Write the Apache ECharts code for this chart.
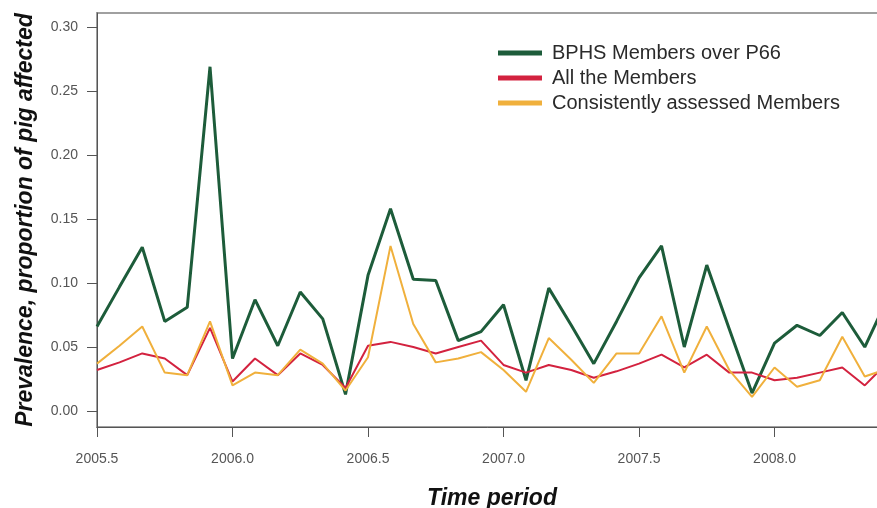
<!DOCTYPE html>
<html>
<head>
<meta charset="utf-8">
<script src="https://cdn.jsdelivr.net/npm/echarts@6/dist/echarts.min.js"></script>
<style>
html,body{margin:0;padding:0;background:#fff;}
#chart{width:877px;height:508px;}
</style>
</head>
<body>
<div id="chart"></div>
<script>
// Monthly time points (decimal years)
var times = [2005.500, 2005.583, 2005.667, 2005.750, 2005.833, 2005.917,
             2006.000, 2006.083, 2006.167, 2006.250, 2006.333, 2006.417,
             2006.500, 2006.583, 2006.667, 2006.750, 2006.833, 2006.917,
             2007.000, 2007.083, 2007.167, 2007.250, 2007.333, 2007.417,
             2007.500, 2007.583, 2007.667, 2007.750, 2007.833, 2007.917,
             2008.000, 2008.083, 2008.167, 2008.250, 2008.333, 2008.417];
var bphsOverP66 = [0.066, 0.097, 0.128, 0.070, 0.081, 0.269,
                   0.041, 0.087, 0.051, 0.093, 0.072, 0.013,
                   0.106, 0.158, 0.103, 0.102, 0.055, 0.062,
                   0.083, 0.024, 0.096, 0.067, 0.037, 0.070,
                   0.104, 0.129, 0.050, 0.114, 0.064, 0.014,
                   0.053, 0.067, 0.059, 0.077, 0.050, 0.088];
var allMembers = [0.032, 0.038, 0.045, 0.041, 0.028, 0.065,
                  0.023, 0.041, 0.028, 0.045, 0.036, 0.018,
                  0.051, 0.054, 0.050, 0.045, 0.050, 0.055,
                  0.036, 0.030, 0.036, 0.032, 0.026, 0.031,
                  0.037, 0.044, 0.034, 0.044, 0.030, 0.030,
                  0.024, 0.026, 0.030, 0.034, 0.020, 0.038];
var consistentMembers = [0.037, 0.051, 0.066, 0.030, 0.028, 0.070,
                         0.020, 0.030, 0.028, 0.048, 0.037, 0.016,
                         0.042, 0.129, 0.068, 0.038, 0.041, 0.046,
                         0.032, 0.015, 0.057, 0.040, 0.022, 0.045,
                         0.045, 0.074, 0.030, 0.066, 0.032, 0.011,
                         0.034, 0.019, 0.024, 0.058, 0.027, 0.033];
var xTicks = [2005.5, 2006.0, 2006.5, 2007.0, 2007.5, 2008.0];
var yTicks = [0.00, 0.05, 0.10, 0.15, 0.20, 0.25, 0.30];
var seriesNames = ['BPHS Members over P66', 'All the Members', 'Consistently assessed Members'];

function pairs(vals){ return times.map(function(t,i){ return [t, vals[i]]; }); }

var FONT = '"Liberation Sans", Arial, sans-serif';
var chart = echarts.init(document.getElementById('chart'), null, {renderer:'canvas'});
chart.setOption({
  animation: false,
  backgroundColor: '#fff',
  textStyle: {fontFamily: FONT},
  grid: {left: 97, top: 13, width: 790, height: 414, show: true, outerBoundsMode: 'none',
         containLabel: false,
         borderColor: '#a0a0a0', borderWidth: 2, backgroundColor: 'transparent'},
  legend: {
    orient: 'vertical', left: 493, top: 38,
    icon: 'rect', itemWidth: 44, itemHeight: 5, itemGap: 5,
    textStyle: {fontSize: 20, color: '#2a2a2a', fontFamily: FONT, lineHeight: 20, padding: [0,0,0,5]},
    data: seriesNames
  },
  xAxis: {
    type: 'value', min: 2005.5, max: 2008.415,
    name: 'Time period', nameLocation: 'middle', nameGap: 60,
    nameTextStyle: {fontSize: 23, fontWeight: 'bold', fontStyle: 'italic', color: '#111', fontFamily: FONT},
    axisLine: {show: true, onZero: false, lineStyle: {color: '#555', width: 1}},
    axisTick: {show: true, length: 10, customValues: xTicks, lineStyle: {color: '#555'}},
    axisLabel: {customValues: xTicks, margin: 25, fontSize: 14, color: '#555',
                formatter: function(v){ return v.toFixed(1); }},
    splitLine: {show: false}
  },
  yAxis: {
    type: 'value', min: -0.0125, max: 0.311,
    name: 'Prevalence, proportion of pig affected', nameLocation: 'middle', nameGap: 60,
    nameTextStyle: {fontSize: 23, fontWeight: 'bold', fontStyle: 'italic', color: '#111', fontFamily: FONT},
    axisLine: {show: true, onZero: false, lineStyle: {color: '#555', width: 1}},
    axisTick: {show: true, length: 10, customValues: yTicks, lineStyle: {color: '#555'}},
    axisLabel: {customValues: yTicks, margin: 19, fontSize: 14, color: '#555',
                formatter: function(v){ return v.toFixed(2); }},
    splitLine: {show: false}
  },
  series: [
    {name: seriesNames[0], type: 'line', data: pairs(bphsOverP66), showSymbol: false, symbol: 'none',
     lineStyle: {color: '#1d5c3a', width: 3}, itemStyle: {color: '#1d5c3a'}, z: 2},
    {name: seriesNames[1], type: 'line', data: pairs(allMembers), showSymbol: false, symbol: 'none',
     lineStyle: {color: '#d3223f', width: 2}, itemStyle: {color: '#d3223f'}, z: 3},
    {name: seriesNames[2], type: 'line', data: pairs(consistentMembers), showSymbol: false, symbol: 'none',
     lineStyle: {color: '#f0b03c', width: 2}, itemStyle: {color: '#f0b03c'}, z: 4}
  ]
});
</script>
</body>
</html>
